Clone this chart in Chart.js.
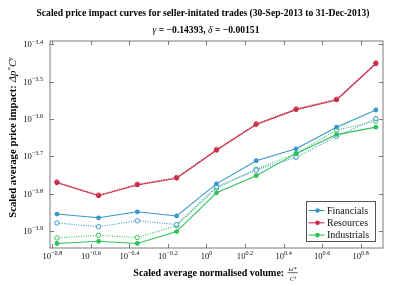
<!DOCTYPE html>
<html>
<head>
<meta charset="utf-8">
<script src="https://cdn.jsdelivr.net/npm/chart.js@4"></script>
<style>
  body { margin: 0; background: #fff; }
  canvas { display: block; }
</style>
</head>
<body>
<canvas id="chart" width="407" height="286"></canvas>
<script>
// volume bins, log10 of the scaled average normalised volume
const volumeExp = [-0.776, -0.560, -0.359, -0.155, 0.052, 0.258, 0.465, 0.675, 0.879];

// log10 of scaled average price impact, solid = filled markers, dotted = hollow markers
const financials = [-3.855, -3.865, -3.849, -3.860, -3.774, -3.712, -3.680, -3.622, -3.576];
const financialsFit = [-3.879, -3.889, -3.873, -3.883, -3.782, -3.737, -3.703, -3.647, -3.599];
const resources = [-3.771, -3.806, -3.777, -3.759, -3.684, -3.615, -3.575, -3.549, -3.452];
const resourcesFit = [-3.769, -3.804, -3.775, -3.757, -3.682, -3.613, -3.573, -3.547, -3.450];
const industrials = [-3.934, -3.928, -3.934, -3.902, -3.798, -3.752, -3.693, -3.642, -3.622];
const industrialsFit = [-3.919, -3.912, -3.918, -3.886, -3.785, -3.735, -3.693, -3.630, -3.606];

const xTicks = [-0.8, -0.6, -0.4, -0.2, 0, 0.2, 0.4, 0.6, 0.8];
const yTicks = [-3.9, -3.8, -3.7, -3.6, -3.5, -3.4];

const colBlue = '#3896cf';
const colRed = '#c92e48';
const colGreen = '#2ec25a';
const serif = '"Liberation Serif", serif';

function pts(arr) {
  return arr.map((v, i) => ({ x: volumeExp[i], y: v }));
}

function solid(label, arr, color) {
  return {
    label: label, data: pts(arr), borderColor: color, backgroundColor: color,
    borderWidth: 1.1, pointRadius: 2.4, pointBorderWidth: 0, pointHoverRadius: 2.4, order: 1
  };
}
function dotted(arr, color) {
  return {
    label: '', data: pts(arr), borderColor: color, backgroundColor: '#fff',
    borderWidth: 1.1, borderDash: [1, 1.4], pointRadius: 2.2, pointBorderWidth: 1,
    pointHoverRadius: 2.2, order: 2
  };
}

function fmtExp(v) {
  if (Math.abs(v) < 1e-9) return '0';
  return (v < 0 ? '\u2212' : '') + Math.abs(v).toFixed(1);
}

function drawRich(c, parts, x, y, align) {
  let w = 0;
  parts.forEach(p => { c.font = p.font; w += c.measureText(p.t).width; });
  let cx = x;
  if (align === 'center') cx = x - w / 2;
  if (align === 'right') cx = x - w;
  c.textAlign = 'left';
  parts.forEach(p => {
    c.font = p.font;
    c.fillText(p.t, cx, y + (p.dy || 0));
    cx += c.measureText(p.t).width;
  });
}

const decor = {
  id: 'decor',
  afterDraw(chart) {
    const c = chart.ctx;
    const a = chart.chartArea;
    const xs = chart.scales.x, ys = chart.scales.y;
    c.save();
    c.fillStyle = '#111';
    c.textBaseline = 'alphabetic';

    // frame + inward ticks
    c.strokeStyle = '#7a7a7a';
    c.lineWidth = 1;
    c.strokeRect(a.left, a.top, a.right - a.left, a.bottom - a.top);
    c.beginPath();
    xTicks.forEach(t => {
      const px = Math.round(xs.getPixelForValue(t)) + 0.5;
      c.moveTo(px, a.bottom); c.lineTo(px, a.bottom - 4);
      c.moveTo(px, a.top); c.lineTo(px, a.top + 4);
    });
    yTicks.forEach(t => {
      const py = Math.round(ys.getPixelForValue(t)) + 0.5;
      c.moveTo(a.left, py); c.lineTo(a.left + 4, py);
      c.moveTo(a.right, py); c.lineTo(a.right - 4, py);
    });
    c.stroke();

    // tick labels
    const big = '8.6px ' + serif, small = '6.2px ' + serif;
    xTicks.forEach(t => {
      drawRich(c, [{ t: '10', font: big }, { t: fmtExp(t), font: small, dy: -3.8 }],
        xs.getPixelForValue(t), a.bottom + 10.5, 'center');
    });
    yTicks.forEach(t => {
      drawRich(c, [{ t: '10', font: big }, { t: fmtExp(t), font: small, dy: -3.8 }],
        a.left - 7, ys.getPixelForValue(t) + 3, 'right');
    });

    // titles
    c.fillStyle = '#000';
    drawRich(c, [{ t: 'Scaled price impact curves for seller-initated trades (30-Sep-2013 to 31-Dec-2013)', font: 'bold 9.6px ' + serif }], 203, 16, 'center');
    drawRich(c, [
      { t: '\u03b3', font: 'italic 9.6px ' + serif },
      { t: ' = \u22120.14393, ', font: 'bold 9.6px ' + serif },
      { t: '\u03b4', font: 'italic 9.6px ' + serif },
      { t: ' = \u22120.00151', font: 'bold 9.6px ' + serif }
    ], 206, 33, 'center');

    // x title with small fraction
    const xt = 'Scaled average normalised volume: ';
    c.font = 'bold 10px ' + serif;
    const xw = c.measureText(xt).width;
    const x0 = 216 - (xw + 12) / 2;
    c.fillText(xt, x0, 276);
    const fx = x0 + xw + 6;
    c.font = 'italic 6.5px ' + serif;
    c.textAlign = 'center';
    c.fillText('\u03c9*', fx, 270.5);
    c.fillText('C\u1d5f', fx, 280.5);
    c.fillRect(fx - 5, 272.5, 10, 0.6);
    c.textAlign = 'left';

    // y title rotated
    c.save();
    c.translate(15.5, 137.5);
    c.rotate(-Math.PI / 2);
    drawRich(c, [
      { t: 'Scaled average price impact: ', font: 'bold 10.8px ' + serif },
      { t: '\u0394p', font: 'italic 10.8px ' + serif },
      { t: '*', font: '7px ' + serif, dy: -4 },
      { t: 'C', font: 'italic 10.8px ' + serif },
      { t: '\u03b3', font: 'italic 7px ' + serif, dy: -4 }
    ], 0, 0, 'center');
    c.restore();

    // legend
    const lx = 306.5, ly = 201.5, lw = 69, lh = 40;
    c.fillStyle = '#fff';
    c.fillRect(lx, ly, lw, lh);
    c.strokeStyle = '#555';
    c.strokeRect(lx, ly, lw, lh);
    const entries = chart.data.datasets.filter(d => d.label);
    entries.forEach((d, i) => {
      const y = ly + 9 + i * 12.3;
      c.strokeStyle = d.borderColor;
      c.lineWidth = 1.1;
      c.beginPath(); c.moveTo(lx + 2, y); c.lineTo(lx + 18, y); c.stroke();
      c.fillStyle = d.borderColor;
      c.beginPath(); c.arc(lx + 11, y, 2.3, 0, Math.PI * 2); c.fill();
      c.fillStyle = '#111';
      c.font = '10px ' + serif;
      c.fillText(d.label, lx + 20.5, y + 3.3);
    });
    c.restore();
  }
};

new Chart(document.getElementById('chart'), {
  type: 'line',
  data: {
    datasets: [
      solid('Financials', financials, colBlue),
      solid('Resources', resources, colRed),
      solid('Industrials', industrials, colGreen),
      dotted(financialsFit, colBlue),
      dotted(resourcesFit, colRed),
      dotted(industrialsFit, colGreen)
    ]
  },
  options: {
    responsive: false,
    animation: false,
    layout: { padding: { left: 50, top: 41, right: 24, bottom: 38 } },
    scales: {
      x: { type: 'linear', min: -0.812, max: 0.916, display: false },
      y: { type: 'linear', min: -3.946, max: -3.391, display: false }
    },
    plugins: { legend: { display: false }, tooltip: { enabled: false }, title: { display: false } },
    elements: { line: { tension: 0 } }
  },
  plugins: [decor]
});
</script>
</body>
</html>
